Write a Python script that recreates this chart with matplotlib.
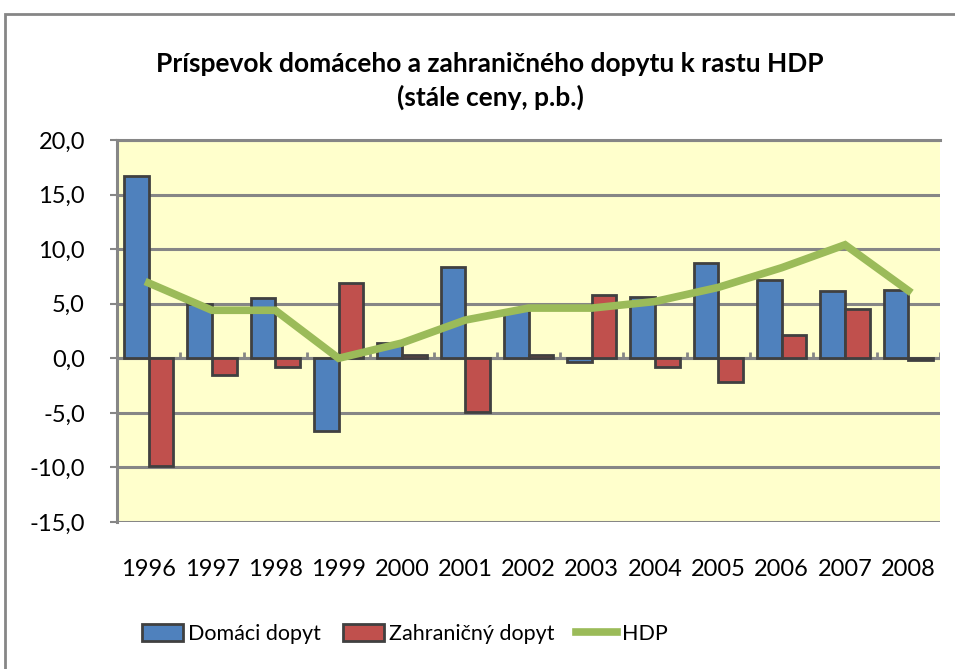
import matplotlib
matplotlib.use("Agg")
import matplotlib.pyplot as plt
import numpy as np
from matplotlib.patches import Rectangle, Patch
from matplotlib.lines import Line2D

years = ["1996", "1997", "1998", "1999", "2000", "2001", "2002",
         "2003", "2004", "2005", "2006", "2007", "2008"]
domaci = [16.7, 5.0, 5.5, -6.7, 1.4, 8.4, 4.4, -0.3, 5.6, 8.7, 7.2, 6.2, 6.3]
zahranicny = [-9.9, -1.5, -0.8, 6.9, 0.3, -4.9, 0.3, 5.8, -0.8, -2.2, 2.1, 4.5, -0.2]
hdp = [6.9, 4.4, 4.4, 0.0, 1.4, 3.5, 4.6, 4.6, 5.2, 6.5, 8.3, 10.4, 6.2]

title = "Príspevok domáceho a zahraničného dopytu k rastu HDP\n(stále ceny, p.b.)"
series_names = ["Domáci dopyt", "Zahraničný dopyt", "HDP"]
yticks = [-15, -10, -5, 0, 5, 10, 15, 20]

BLUE = "#4F81BD"
RED = "#C0504D"
GREEN = "#9BBB59"
EDGE = "#404040"
GRID = "#868686"
BG = "#FFFFCC"

plt.rcParams['font.family'] = ['Lato', 'DejaVu Sans']

fig = plt.figure(figsize=(9.55, 6.69), dpi=100)
W, H = 955, 669
ax = fig.add_axes([117 / W, 1 - 522 / H, (940 - 117) / W, (522 - 140) / H])
ax.set_facecolor(BG)

x = np.arange(len(years))
bw = 0.39
ax.bar(x - bw / 2, domaci, bw, color=BLUE, edgecolor=EDGE, linewidth=2.0, zorder=3)
ax.bar(x + bw / 2, zahranicny, bw, color=RED, edgecolor=EDGE, linewidth=2.0, zorder=3)
ax.plot(x, hdp, color=GREEN, linewidth=5.5, zorder=4, solid_joinstyle='miter')

ax.set_xlim(-0.5, len(years) - 0.5)
ax.set_ylim(-15, 20)
ax.set_yticks(yticks)
ax.set_yticklabels([f"{v:.1f}".replace(".", ",") for v in yticks])
ax.yaxis.grid(True, color=GRID, linewidth=2.2, zorder=1)
ax.set_axisbelow(True)

ax.set_xticks(x)
ax.set_xticklabels(years)
ax.tick_params(axis='x', length=0, pad=27, labelsize=17, colors='black')
ax.tick_params(axis='y', length=5, width=1.5, color=GRID, pad=18, labelsize=17)

for s in ['right', 'bottom']:
    ax.spines[s].set_visible(False)
ax.spines['left'].set_color(GRID)
ax.spines['left'].set_linewidth(2.2)
ax.spines['top'].set_color(GRID)
ax.spines['top'].set_linewidth(2.2)

# zero axis with category-boundary tick marks
ax.axhline(0, color=GRID, linewidth=2.2, zorder=2)
bounds = np.arange(len(years) + 1) - 0.5
ax.vlines(bounds[1:], 0, 0.6, color=GRID, linewidth=2.0, zorder=2)

fig.text(490 / W, 1 - 81 / H, title, ha='center', va='center',
         fontsize=19, fontweight='bold', linespacing=1.45)

handles = [Patch(facecolor=BLUE, edgecolor=EDGE, linewidth=2.0),
           Patch(facecolor=RED, edgecolor=EDGE, linewidth=2.0),
           Line2D([0], [0], color=GREEN, linewidth=5.5)]
fig.legend(handles, series_names, loc='center', bbox_to_anchor=(405 / W, 1 - 634 / H),
           ncol=3, frameon=False, fontsize=15.5, handlelength=1.9, handleheight=0.85,
           handletextpad=0.25, columnspacing=1.0)

fig.add_artist(Rectangle((5 / W, -0.05), 1.1, 1 - 14 / H + 0.05, transform=fig.transFigure,
                         fill=False, edgecolor=GRID, linewidth=2.0, clip_on=False))

fig.savefig("out.png", dpi=100)
